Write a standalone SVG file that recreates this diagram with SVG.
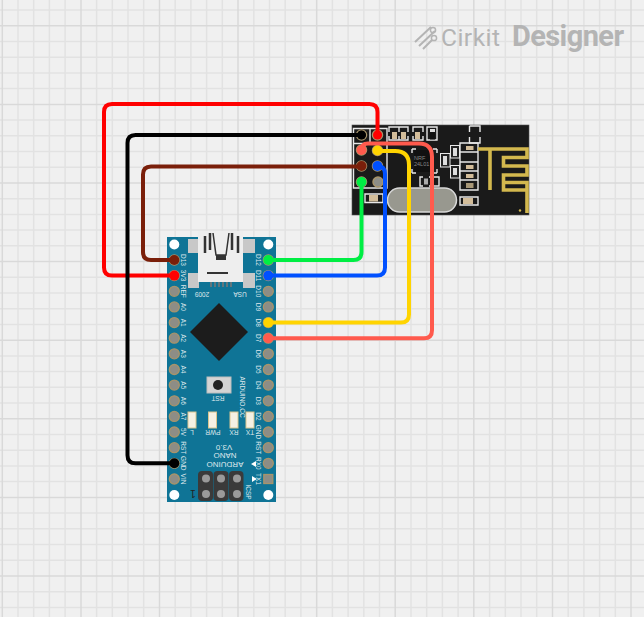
<svg xmlns="http://www.w3.org/2000/svg" width="644" height="617" viewBox="0 0 644 617">
<style>
.gm{stroke:#e2e2e2;stroke-width:1.5;fill:none}
.gj{stroke:#d9d9d9;stroke-width:1.5;fill:none}
.w{fill:none;stroke-width:4;stroke-linecap:round;stroke-linejoin:round}
.pin{fill:#8d8d86;stroke:#a8946a;stroke-width:1.5}
.np{fill:#8d8d86;stroke:#a8946a;stroke-width:1.3}
.pad{fill:none;stroke:#e8e8e8;stroke-width:1.4}
.res{fill:#d3bd9a}
.l{font-family:"Liberation Sans",Arial,sans-serif;font-size:6.5px;fill:#dfe8ec}
.h{fill:#fff}
.led{fill:#f4f1e4;stroke:#d9c68f;stroke-width:1}
.ant{fill:none;stroke:#d3b84e;stroke-width:3.6}
.cap{fill:#222;stroke:#e8e8e8;stroke-width:1}
.capw{fill:#ddd}
.usbd{stroke:#333;stroke-width:2.5;fill:none}
.smd{fill:#c8c8c8}
</style>
<rect width="644" height="617" fill="#f0f0f0"/>
<g id="grid">
<path class="gm" d="M18 0V617M33.7 0V617M49.4 0V617M65.1 0V617M96.6 0V617M112.3 0V617M128 0V617M143.700 0V617M175.200 0V617M190.900 0V617M206.600 0V617M222.300 0V617M253.800 0V617M269.500 0V617M285.200 0V617M300.900 0V617M332.400 0V617M348.100 0V617M363.800 0V617M379.500 0V617M411 0V617M426.700 0V617M442.400 0V617M458.100 0V617M489.600 0V617M505.300 0V617M521 0V617M536.700 0V617M568.200 0V617M583.900 0V617M599.600 0V617M615.300 0V617"/>
<path class="gm" d="M0 10H644M0 41.500H644M0 57.200H644M0 72.900H644M0 88.600H644M0 120.100H644M0 135.800H644M0 151.500H644M0 167.200H644M0 198.700H644M0 214.400H644M0 230.100H644M0 245.800H644M0 277.300H644M0 293H644M0 308.700H644M0 324.400H644M0 355.900H644M0 371.600H644M0 387.300H644M0 403H644M0 434.500H644M0 450.200H644M0 465.900H644M0 481.600H644M0 513.100H644M0 528.800H644M0 544.500H644M0 560.200H644M0 591.700H644M0 607.400H644"/>
<path class="gj" d="M2.300 0V617M81 0V617M159.500 0V617M238 0V617M316.700 0V617M395.200 0V617M473.800 0V617M552.500 0V617M631 0V617M0 25.800H644M0 104.400H644M0 183H644M0 261.600H644M0 340.200H644M0 418.800H644M0 497.400H644M0 576H644"/>
</g>
<g id="logo" fill="#b4b4b4">
<path d="M415 42L431 27M419 46L435 31M423 49L432 40" stroke="#b4b4b4" stroke-width="2" fill="none"/>
<circle cx="433" cy="30" r="2.600" fill="none" stroke="#b4b4b4" stroke-width="1.500"/>
<circle cx="434" cy="38" r="2.600" fill="none" stroke="#b4b4b4" stroke-width="1.500"/>
<text x="441" y="46" font-family="Roboto,'Liberation Sans',sans-serif" font-size="24.500" textLength="59">Cirkit</text>
<text x="512" y="46" font-family="Roboto,'Liberation Sans',sans-serif" font-size="29" font-weight="700" textLength="112">Designer</text>
</g>
<g id="nrf24">
<rect x="352" y="125" width="177" height="90" fill="#1a1a1a" stroke="#555" stroke-width="0.600"/>
<path class="pad" d="M353.500 128.500H387V188H353.500ZM353.500 143.500H387M370 128.500V143.500"/>
<path class="pad" d="M389 132V127H399V132M389 136V140H399V136M399 127H408V132M399 140H408V136M413 132V127H423V132M413 136V140H423V136M427 127H437V140H427ZM469.500 126H480V132M469.500 126V132M469.500 137V143H480V137"/>
<rect x="392" y="132" width="5" height="7" class="res"/><rect x="401" y="132" width="5" height="7" class="res"/><rect x="415" y="132" width="5" height="7" class="res"/><rect x="430" y="131.500" width="5" height="8" fill="#111"/><rect x="430" y="129" width="5" height="3" fill="#ddd"/>
<rect x="414" y="150" width="17" height="22" fill="#111"/>
<path class="pad" d="M412 149V153M412 149H416M437 149V153M433 149H437M412 173V169M412 173H416M437 173V169M433 173H437"/>
<text x="414" y="160" font-family="'Liberation Sans',sans-serif" font-size="5.500" fill="#888">NRF</text>
<text x="414" y="165.500" font-family="'Liberation Sans',sans-serif" font-size="5.500" fill="#888">24L01</text>
<rect x="440.500" y="153.500" width="9.500" height="13.500" class="cap"/><rect x="443" y="156" width="4" height="9" class="capw"/>
<path class="pad" d="M423 177H420V186H423M429 177H439V186H429"/>
<rect x="424" y="178.500" width="4" height="6" fill="#aaa"/>
<rect x="450.500" y="145.500" width="9" height="12.500" class="cap"/><rect x="453" y="148" width="4" height="8" class="capw"/>
<rect x="450.500" y="165.500" width="9" height="12.500" class="cap"/><rect x="453" y="168" width="4" height="7" class="capw"/>
<path class="pad" d="M460 143V152H478V143ZM460 152V162M478 152V162M460 162H478M460 162V171H478V162M460 171V180H478V171M460 180V190H478V180"/>
<rect x="466" y="146" width="7.500" height="4" class="res"/><rect x="466" y="165" width="7.500" height="4" class="res"/><rect x="466" y="174" width="7.500" height="4" class="res"/><rect x="466" y="183" width="7.500" height="5" fill="#a89878"/>
<path class="pad" d="M460 197H478V205H460Z"/><rect x="463" y="198" width="10" height="6" class="res"/>
<path class="pad" d="M365 194H383V202.500H365Z"/><rect x="369" y="195" width="9" height="6.500" class="res"/>
<rect x="387.500" y="188" width="69" height="24" rx="12" fill="#98988f" stroke="#d8d8d8" stroke-width="1.500"/>
<path class="ant" d="M478 149H527V157.500H503.500V166H527V175H503.500V182.500H527V190H503.500V182.500M527 190V213M490 149V190"/>
<circle cx="520" cy="210.500" r="1.200" fill="#d3b84e"/>
<circle class="pin" cx="361.500" cy="135" r="5" style="fill:#111"/>
<circle class="pin" cx="377.500" cy="135" r="5"/>
<circle class="pin" cx="361.500" cy="150" r="5"/>
<circle class="pin" cx="377.500" cy="150.500" r="5"/>
<circle class="pin" cx="361.500" cy="166" r="5"/>
<circle class="pin" cx="377.500" cy="166" r="5"/>
<circle class="pin" cx="361.500" cy="182" r="5"/>
<circle class="pin" cx="378" cy="182" r="5"/>
</g>
<g id="arduino-nano">
<rect x="167" y="237" width="109" height="265" fill="#0f7496"/>
<circle class="h" cx="174.300" cy="244.500" r="5"/><circle class="h" cx="268.300" cy="244.500" r="5"/><circle class="h" cx="174.300" cy="495" r="5"/><circle class="h" cx="268.300" cy="495" r="5"/>
<rect x="188" y="239" width="11" height="14" class="smd"/><rect x="243" y="239" width="12" height="14" class="smd"/>
<rect x="188" y="273" width="11" height="15" class="smd"/><rect x="243" y="273" width="12" height="15" class="smd"/>
<rect x="198" y="231" width="45" height="51" fill="#eeeeee"/>
<path class="usbd" d="M205 236V253M210 233V250M232 233V250M238 236V253"/>
<path d="M213 233L216 255H226L229 233" stroke="#333" stroke-width="1.500" fill="none"/><rect x="216" y="255" width="10" height="5" fill="#333"/>
<rect x="207" y="272" width="21" height="2" fill="#333"/>
<path d="M211 282V287M215 282V287M219 282V287M223 282V287M227 282V287M231 282V287" stroke="#777" stroke-width="1.600"/>
<path d="M219 303L248 332L219 361L190 332Z" fill="#1c1c1c"/>
<rect x="207" y="377" width="24" height="16" fill="#d4d4d4" stroke="#bdbdbd"/><circle cx="218" cy="385" r="5" fill="#222"/>
<rect x="188" y="412" width="8" height="16" class="led"/><rect x="208.500" y="412" width="8" height="16" class="led"/><rect x="230" y="412" width="8" height="16" class="led"/><rect x="246" y="412" width="8" height="16" class="led"/>
<path d="M251 464L256 461V467ZM252 476L257 479L252 482Z" fill="#fff"/>
<g fill="#3a3a3a"><rect x="198" y="471" width="15" height="30" rx="4"/><rect x="213.500" y="471" width="15" height="30" rx="4"/><rect x="229" y="471" width="14.500" height="30" rx="4"/></g>
<g fill="#9a9a9a"><circle cx="206" cy="478.500" r="4"/><circle cx="221" cy="478.500" r="4"/><circle cx="237" cy="478.500" r="4"/><circle cx="206" cy="494" r="4"/><circle cx="221" cy="494" r="4"/><circle cx="237" cy="494" r="4"/></g>
<g>
<circle class="np" cx="174.300" cy="260" r="5"/><circle class="np" cx="174.300" cy="275.600" r="5"/><circle class="np" cx="174.300" cy="291.300" r="5"/><circle class="np" cx="174.300" cy="306.900" r="5"/><circle class="np" cx="174.300" cy="322.600" r="5"/><circle class="np" cx="174.300" cy="338.200" r="5"/><circle class="np" cx="174.300" cy="353.800" r="5"/><circle class="np" cx="174.300" cy="369.500" r="5"/><circle class="np" cx="174.300" cy="385.100" r="5"/><circle class="np" cx="174.300" cy="400.800" r="5"/><circle class="np" cx="174.300" cy="416.400" r="5"/><circle class="np" cx="174.300" cy="432" r="5"/><circle class="np" cx="174.300" cy="447.700" r="5"/><circle class="np" cx="174.300" cy="463.300" r="5"/><circle class="np" cx="174.300" cy="479" r="5"/>
<circle class="np" cx="268.300" cy="260" r="5"/><circle class="np" cx="268.300" cy="275.600" r="5"/><circle class="np" cx="268.300" cy="291.300" r="5"/><circle class="np" cx="268.300" cy="306.900" r="5"/><circle class="np" cx="268.300" cy="322.600" r="5"/><circle class="np" cx="268.300" cy="338.200" r="5"/><circle class="np" cx="268.300" cy="353.800" r="5"/><circle class="np" cx="268.300" cy="369.500" r="5"/><circle class="np" cx="268.300" cy="385.100" r="5"/><circle class="np" cx="268.300" cy="400.800" r="5"/><circle class="np" cx="268.300" cy="416.400" r="5"/><circle class="np" cx="268.300" cy="432" r="5"/><circle class="np" cx="268.300" cy="447.700" r="5"/><circle class="np" cx="268.300" cy="463.300" r="5"/>
<rect x="263.800" y="474.500" width="9" height="9" fill="#8d8d86" stroke="#a8946a" stroke-width="1.300"/>
</g>
<g class="l" text-anchor="middle">
<text transform="translate(181 260) rotate(90)">D13</text><text transform="translate(181 275.600) rotate(90)">3V3</text><text transform="translate(181 291.300) rotate(90)">REF</text><text transform="translate(181 306.900) rotate(90)">A0</text><text transform="translate(181 322.600) rotate(90)">A1</text><text transform="translate(181 338.200) rotate(90)">A2</text><text transform="translate(181 353.800) rotate(90)">A3</text><text transform="translate(181 369.500) rotate(90)">A4</text><text transform="translate(181 385.100) rotate(90)">A5</text><text transform="translate(181 400.800) rotate(90)">A6</text><text transform="translate(181 416.400) rotate(90)">A7</text><text transform="translate(181 432) rotate(90)">5V</text><text transform="translate(181 447.700) rotate(90)">RST</text><text transform="translate(181 463.300) rotate(90)">GND</text><text transform="translate(181 479) rotate(90)">VIN</text>
<text transform="translate(256 260) rotate(90)">D12</text><text transform="translate(256 275.600) rotate(90)">D11</text><text transform="translate(256 291.300) rotate(90)">D10</text><text transform="translate(256 306.900) rotate(90)">D9</text><text transform="translate(256 322.600) rotate(90)">D8</text><text transform="translate(256 338.200) rotate(90)">D7</text><text transform="translate(256 353.800) rotate(90)">D6</text><text transform="translate(256 369.500) rotate(90)">D5</text><text transform="translate(256 385.100) rotate(90)">D4</text><text transform="translate(256 400.800) rotate(90)">D3</text><text transform="translate(256 416.400) rotate(90)">D2</text><text transform="translate(256 432) rotate(90)">GND</text><text transform="translate(256 447.700) rotate(90)">RST</text><text transform="translate(256 463.300) rotate(90)">RX0</text><text transform="translate(256 479) rotate(90)">TX1</text>
<text transform="translate(202 292) rotate(180)">2009</text><text transform="translate(240 292) rotate(180)">USA</text>
<text transform="translate(218 396) rotate(180)">RST</text>
<text transform="translate(192 429.500) rotate(180)">L</text><text transform="translate(213 429.500) rotate(180)">PWR</text><text transform="translate(234 429.500) rotate(180)">RX</text><text transform="translate(250 429.500) rotate(180)">TX</text>
<text transform="translate(240 397) rotate(90)">ARDUINO.CC</text>
<text transform="translate(224 444.500) rotate(180)" style="font-size:8px">V3.0</text><text transform="translate(225 453) rotate(180)" style="font-size:8px">NANO</text><text transform="translate(225 461.500) rotate(180)" style="font-size:8px">ARDUINO</text>
<text transform="translate(246 492) rotate(90)">ICSP</text>
<text transform="translate(193 490) rotate(180)" style="font-size:10px;fill:#222">1</text>
</g>
</g>
<g id="connectors">
<path class="w" stroke="#ff0000" d="M377.500 135V112Q377.500 104 369.500 104H112Q104 104 104 112V267.600Q104 275.600 112 275.600H174.300"/>
<path class="w" stroke="#000000" d="M361.500 135H135.500Q127.500 135 127.500 143V455.300Q127.500 463.300 135.500 463.300H174.300"/>
<path class="w" stroke="#7a1f0a" d="M361.500 166.500H151Q143 166.500 143 174.500V252Q143 260 151 260H174.300"/>
<path class="w" stroke="#00ee44" d="M268.300 260H353.500Q361.500 260 361.500 252V182"/>
<path class="w" stroke="#0050ff" d="M268.300 275.600H377Q385 275.600 385 267.600V174Q385 166 377.500 166"/>
<path class="w" stroke="#ffd400" d="M268.300 322.600H401Q409 322.600 409 314.600V165Q409 151 395 151H377.500"/>
<path class="w" stroke="#ff5a4d" d="M268.300 338.200H424Q432 338.200 432 330.200V157Q432 143.500 419 143.500H368Q361.500 143.500 361.500 150"/>
<g>
<circle cx="361.500" cy="135" r="4.500" fill="#000"/><circle cx="377.500" cy="135" r="4.500" fill="#f00"/><circle cx="361.500" cy="150" r="5" fill="#ff5a4d"/><circle cx="377.500" cy="150.500" r="5" fill="#ffd400"/><circle cx="361.500" cy="166" r="5" fill="#7a1f0a"/><circle cx="377.500" cy="166" r="5" fill="#0050ff"/><circle cx="361.500" cy="182" r="5" fill="#00ee44"/>
<circle cx="174.300" cy="260" r="5" fill="#7a1f0a"/><circle cx="174.300" cy="275.600" r="5" fill="#f00"/><circle cx="174.300" cy="463.300" r="5" fill="#000"/>
<circle cx="268.300" cy="260" r="5" fill="#00ee44"/><circle cx="268.300" cy="275.600" r="5" fill="#0050ff"/><circle cx="268.300" cy="322.600" r="5" fill="#ffd400"/><circle cx="268.300" cy="338.200" r="5" fill="#ff5a4d"/>
</g>
</g>
</svg>
